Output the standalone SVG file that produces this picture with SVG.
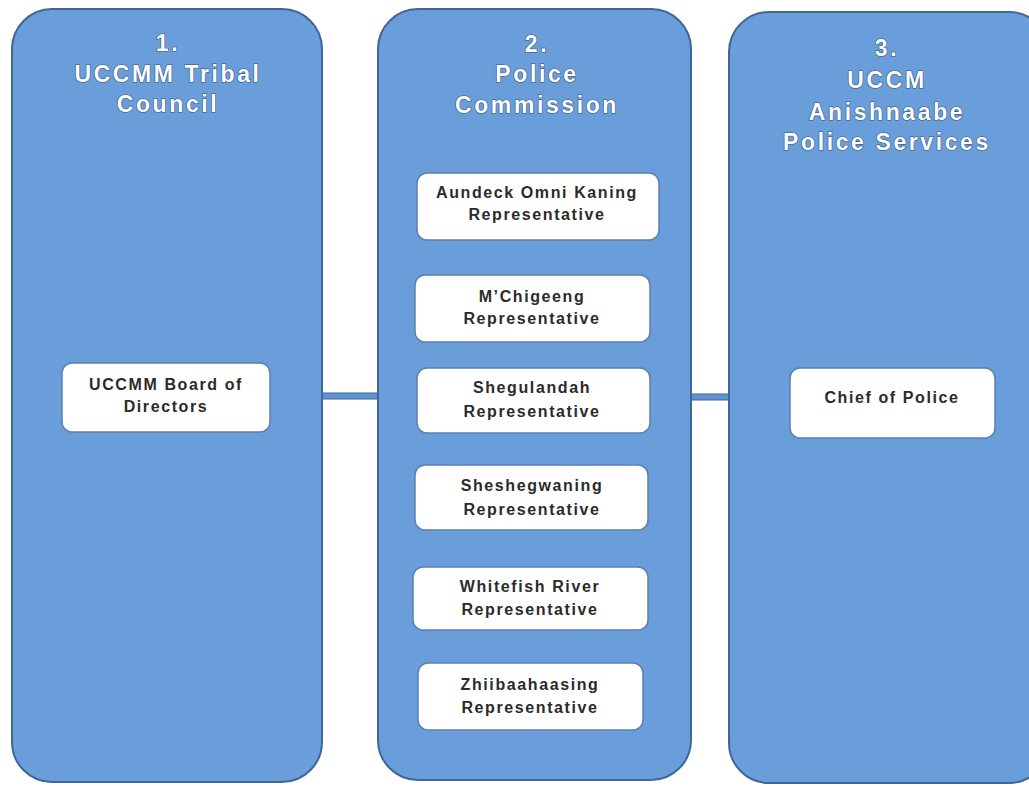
<svg xmlns="http://www.w3.org/2000/svg" width="1029" height="786" viewBox="0 0 1029 786">
<style>
.col{fill:#6a9edb;stroke:#3f6698;stroke-width:2}
.box{fill:#ffffff;stroke:#5b7fae;stroke-width:1.5}
.hdr{font-family:"Liberation Sans",Arial,sans-serif;font-weight:bold;font-size:23px;fill:#ffffff;letter-spacing:2.6px;text-anchor:middle;stroke:#2f5283;stroke-width:1.2px;paint-order:stroke}
.lbl{font-family:"Liberation Sans",Arial,sans-serif;font-weight:bold;font-size:16px;fill:#2b2b2b;letter-spacing:1.6px;text-anchor:middle}
.conn{fill:#5f93d2;stroke:#3f6698;stroke-width:1}
</style>
<rect width="1029" height="786" fill="#ffffff"/>
<g id="connectors">
<rect class="conn" x="318" y="393" width="64" height="6"/>
<rect class="conn" x="686" y="394" width="46" height="6"/>
</g>
<g id="col1">
<rect class="col" x="12" y="9" width="310" height="773" rx="40" ry="40"/>
<text class="hdr" x="168" y="51">1.</text>
<text class="hdr" x="168" y="82">UCCMM Tribal</text>
<text class="hdr" x="168" y="112">Council</text>
</g>
<g id="col2">
<rect class="col" x="378" y="9" width="313" height="771" rx="40" ry="40"/>
<text class="hdr" x="537" y="52">2.</text>
<text class="hdr" x="537" y="82">Police</text>
<text class="hdr" x="537" y="113">Commission</text>
</g>
<g id="col3">
<rect class="col" x="729" y="12" width="320" height="771" rx="40" ry="40"/>
<text class="hdr" x="887" y="56">3.</text>
<text class="hdr" x="887" y="88">UCCM</text>
<text class="hdr" x="887" y="120">Anishnaabe</text>
<text class="hdr" x="887" y="150">Police Services</text>
</g>
<g id="board">
<rect class="box" x="62" y="363" width="208" height="69" rx="10" ry="10"/>
<text class="lbl" x="166" y="390">UCCMM Board of</text>
<text class="lbl" x="166" y="412">Directors</text>
</g>
<g id="aundeck">
<rect class="box" x="417" y="173" width="242" height="67" rx="10" ry="10"/>
<text class="lbl" x="537" y="198">Aundeck Omni Kaning</text>
<text class="lbl" x="537" y="220">Representative</text>
</g>
<g id="mchigeeng">
<rect class="box" x="415" y="275" width="235" height="67" rx="10" ry="10"/>
<text class="lbl" x="532" y="302">M’Chigeeng</text>
<text class="lbl" x="532" y="324">Representative</text>
</g>
<g id="shegulandah">
<rect class="box" x="417" y="368" width="233" height="65" rx="10" ry="10"/>
<text class="lbl" x="532" y="393">Shegulandah</text>
<text class="lbl" x="532" y="417">Representative</text>
</g>
<g id="sheshegwaning">
<rect class="box" x="415" y="465" width="233" height="65" rx="10" ry="10"/>
<text class="lbl" x="532" y="491">Sheshegwaning</text>
<text class="lbl" x="532" y="515">Representative</text>
</g>
<g id="whitefish">
<rect class="box" x="413" y="567" width="235" height="63" rx="10" ry="10"/>
<text class="lbl" x="530" y="592">Whitefish River</text>
<text class="lbl" x="530" y="615">Representative</text>
</g>
<g id="zhiibaahaasing">
<rect class="box" x="418" y="663" width="225" height="67" rx="10" ry="10"/>
<text class="lbl" x="530" y="690">Zhiibaahaasing</text>
<text class="lbl" x="530" y="713">Representative</text>
</g>
<g id="chief">
<rect class="box" x="790" y="368" width="205" height="70" rx="10" ry="10"/>
<text class="lbl" x="892" y="403">Chief of Police</text>
</g>
</svg>
